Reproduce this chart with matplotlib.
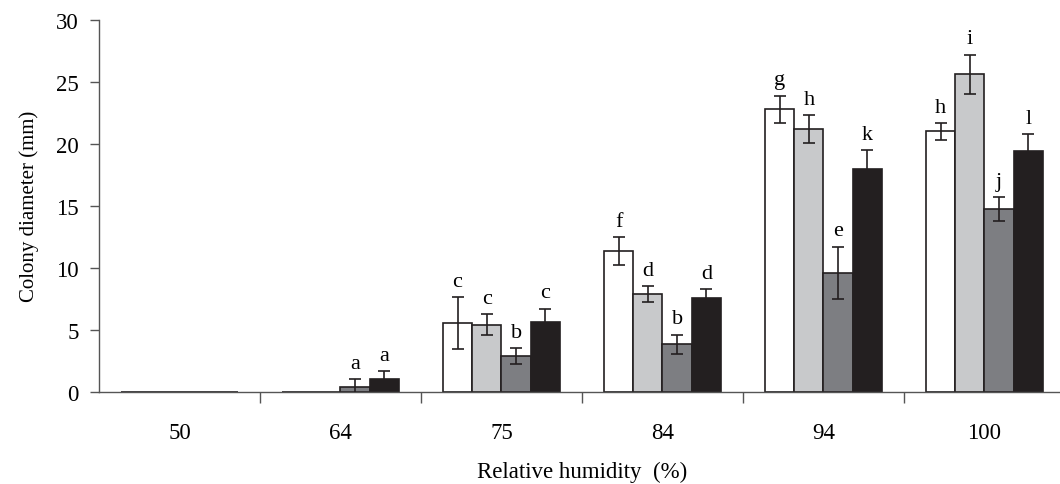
import numpy as np
import matplotlib
matplotlib.use('Agg')
import matplotlib.pyplot as plt

plt.rcParams['font.family'] = ['Liberation Serif', 'DejaVu Serif']

# Dados
humidity = ['50', '64', '75', '84', '94', '100']
series1 = [0, 0, 5.55, 11.35, 22.8, 21.0]
series2 = [0, 0, 5.4, 7.85, 21.2, 25.6]
series3 = [0, 0.4, 2.85, 3.8, 9.6, 14.75]
series4 = [0, 1.05, 5.6, 7.55, 18.0, 19.4]
err1 = [0, 0, 2.1, 1.1, 1.1, 0.65]
err2 = [0, 0, 0.85, 0.65, 1.1, 1.6]
err3 = [0, 0.6, 0.65, 0.8, 2.1, 0.95]
err4 = [0, 0.6, 1.1, 0.75, 1.5, 1.4]
letras1 = ['', '', 'c', 'f', 'g', 'h']
letras2 = ['', '', 'c', 'd', 'h', 'i']
letras3 = ['', 'a', 'b', 'b', 'e', 'j']
letras4 = ['', 'a', 'c', 'd', 'k', 'l']

series = [series1, series2, series3, series4]
erros = [err1, err2, err3, err4]
letras = [letras1, letras2, letras3, letras4]
cores = ['white', '#c8c9cb', '#7d7e82', '#231f20']

fig = plt.figure(figsize=(10.6, 4.85), dpi=100)
ax = fig.add_axes([0.0934, 0.1907, 0.9113, 0.766])

x = np.arange(len(humidity))
w = 0.182
for i in range(4):
    pos = x + (i - 1.5) * w
    mostra = [e > 0 for e in erros[i]]
    # barras de altura zero aparecem como pequenos traços
    ax.bar(pos, series[i], w * 0.8, color=cores[i], edgecolor='none', zorder=1)
    ax.bar(pos, series[i], w, color=cores[i], edgecolor='#231f20', linewidth=1.2, zorder=2)
    ax.errorbar(pos[mostra], np.array(series[i])[mostra], yerr=np.array(erros[i])[mostra],
                fmt='none', ecolor='#231f20', elinewidth=1.2, capsize=4.5, capthick=1.2, zorder=3)
    for j in range(len(humidity)):
        if letras[i][j]:
            ax.text(pos[j], series[i][j] + erros[i][j] + 0.5, letras[i][j],
                    ha='center', va='bottom', fontsize=16)

ax.set_xlim(-0.5, len(humidity) - 0.5)
ax.set_ylim(0, 30)
ax.set_yticks(range(0, 31, 5))
ax.set_xticks(x)
ax.set_xticklabels(humidity)
ax.set_xticks(np.arange(0.5, len(humidity) - 0.5, 1), minor=True)
ax.tick_params(axis='x', which='major', length=0, pad=22, labelsize=16.5)
ax.tick_params(axis='x', which='minor', length=8, width=1, color='#555555', direction='out')
ax.tick_params(axis='y', length=6.5, width=1, color='#555555', labelsize=16.5, pad=8)
for s in ['top', 'right']:
    ax.spines[s].set_visible(False)
for s in ['left', 'bottom']:
    ax.spines[s].set_color('#555555')
    ax.spines[s].set_linewidth(1)

ax.set_xlabel('Relative humidity  (%)', fontsize=16.5, labelpad=13)
ax.set_ylabel('Colony diameter (mm)', fontsize=15, labelpad=12)

plt.savefig('out.png', dpi=100)
